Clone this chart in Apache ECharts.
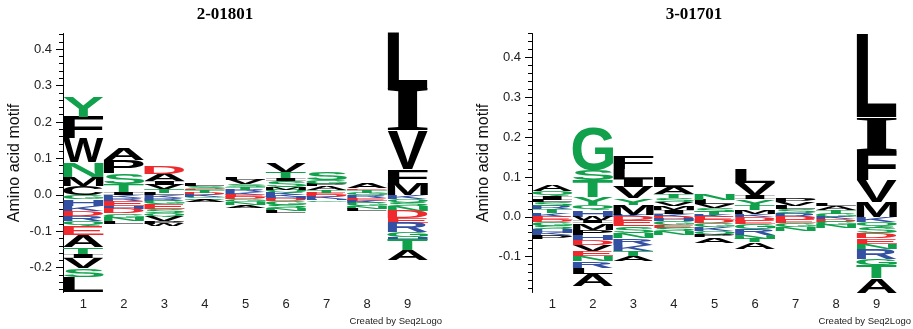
<!DOCTYPE html>
<html>
<head>
<meta charset="utf-8">
<script src="https://cdn.jsdelivr.net/npm/echarts@6/dist/echarts.min.js"></script>
<style>html,body{margin:0;padding:0;background:#fff;}#c{width:913px;height:329px;}</style>
</head>
<body>
<div id="c"></div>
<script>
// ---- data ----
const positions = ['1','2','3','4','5','6','7','8','9'];

// Panel 1: 2-01801  (letters stacked outward from zero, in listed order)
const leftTitle = '2-01801';
const leftUpLetters = ['CMNWFY','ITSPA','LTVIAD','DTESL','KRTSVL','KQMSITV','ETAPGS','GTEA','MFVIL'];
const leftUpHeights = [
  [0.025,0.025,0.04,0.065,0.06,0.055],
  [0.008,0.022,0.03,0.035,0.03],
  [0.006,0.01,0.012,0.01,0.02,0.022],
  [0.005,0.008,0.004,0.008,0.005],
  [0.008,0.006,0.008,0.008,0.012,0.008],
  [0.006,0.008,0.008,0.016,0.008,0.018,0.024],
  [0.005,0.008,0.01,0.007,0.01,0.02],
  [0.006,0.008,0.004,0.015],
  [0.03,0.04,0.105,0.115,0.153]
];
const leftDownLetters = ['GHKDRQEATIVSL','KREHDGNL','KRGESQVPW','KGQA','EDGNA','KHDGSNL','DKHG','REKGNL','KQSNDERGHTA'];
const leftDownHeights = [
  [0.012,0.018,0.014,0.013,0.014,0.014,0.025,0.033,0.018,0.013,0.028,0.023,0.042],
  [0.008,0.008,0.015,0.008,0.012,0.012,0.01,0.007],
  [0.008,0.008,0.01,0.012,0.012,0.01,0.012,0.008,0.005],
  [0.005,0.005,0.005,0.005],
  [0.006,0.006,0.008,0.008,0.007],
  [0.006,0.005,0.006,0.01,0.01,0.008,0.005],
  [0.006,0.005,0.004,0.005],
  [0.008,0.008,0.006,0.01,0.008,0.005],
  [0.011,0.01,0.01,0.013,0.02,0.012,0.026,0.013,0.008,0.03,0.027]
];
const leftMajorTicks = [-0.2,-0.1,0.0,0.1,0.2,0.3,0.4];
const leftMinorTicks = [-0.26,-0.24,-0.22,-0.18,-0.16,-0.14,-0.12,-0.08,-0.06,-0.04,-0.02,0.02,0.04,0.06,0.08,0.12,0.14,0.16,0.18,0.22,0.24,0.26,0.28,0.32,0.34,0.36,0.38,0.42,0.44];

// Panel 2: 3-01701
const rightTitle = '3-01701';
const rightUpLetters = ['KTRSLIQA','HQYTSG','KMYVILF','KIMVSTAL','KTSVLN','KMTYIVL','RSLVP','GTAL','MVFIL'];
const rightUpHeights = [
  [0.01,0.01,0.008,0.008,0.006,0.01,0.012,0.016],
  [0.017,0.013,0.02,0.042,0.025,0.108],
  [0.005,0.025,0.016,0.029,0.02,0.025,0.033],
  [0.006,0.01,0.01,0.01,0.01,0.01,0.02,0.024],
  [0.005,0.008,0.008,0.01,0.012,0.017],
  [0.006,0.01,0.012,0.016,0.01,0.03,0.036],
  [0.01,0.01,0.008,0.008,0.01],
  [0.008,0.01,0.01,0.007],
  [0.038,0.054,0.073,0.085,0.21]
];
const rightDownLetters = ['EDGSHKP','WIMPHDVENRLA','DESNRKTA','DHGESN','EDGKQPA','DEGRNTA','DEGN','KDGN','KQSDENRGTA'];
const rightDownHeights = [
  [0.008,0.006,0.01,0.008,0.008,0.005,0.01],
  [0.008,0.008,0.016,0.013,0.012,0.013,0.016,0.013,0.012,0.017,0.016,0.029],
  [0.008,0.016,0.016,0.013,0.017,0.016,0.013,0.012],
  [0.005,0.006,0.01,0.006,0.01,0.008],
  [0.008,0.008,0.01,0.01,0.01,0.005,0.014],
  [0.01,0.008,0.012,0.016,0.01,0.008,0.016],
  [0.008,0.008,0.01,0.009],
  [0.006,0.006,0.008,0.008],
  [0.012,0.013,0.015,0.014,0.014,0.012,0.025,0.015,0.033,0.037]
];
const rightMajorTicks = [-0.1,0.0,0.1,0.2,0.3,0.4];
const rightMinorTicks = [-0.18,-0.16,-0.14,-0.12,-0.08,-0.06,-0.04,-0.02,0.02,0.04,0.06,0.08,0.12,0.14,0.16,0.18,0.22,0.24,0.26,0.28,0.32,0.34,0.36,0.38,0.42,0.44,0.46];

// ---- styling ----
const GREEN = '#11a04b', RED = '#ee2a2f', BLUE = '#3450a3', BLACK = '#000000';
function letterColor(ch) {
  if ('GSTYQN'.indexOf(ch) >= 0) return GREEN;
  if ('DE'.indexOf(ch) >= 0) return RED;
  if ('KRH'.indexOf(ch) >= 0) return BLUE;
  return BLACK;
}
function letterFamily(ch) { return ch === 'I' ? '"Liberation Serif"' : '"Liberation Sans"'; }

const FS = 100;
const measureCtx = document.createElement('canvas').getContext('2d');
const metricCache = {};
function glyphMetrics(ch) {
  if (metricCache[ch]) return metricCache[ch];
  measureCtx.font = 'bold ' + FS + 'px ' + letterFamily(ch);
  measureCtx.textBaseline = 'middle';
  measureCtx.textAlign = 'left';
  const m = measureCtx.measureText(ch);
  const r = { l: m.actualBoundingBoxLeft, r: m.actualBoundingBoxRight, a: m.actualBoundingBoxAscent, d: m.actualBoundingBoxDescent };
  metricCache[ch] = r;
  return r;
}

function buildMarks(upL, upH, dnL, dnH) {
  const marks = [];
  for (let i = 0; i < upL.length; i++) {
    let acc = 0;
    for (let j = 0; j < upL[i].length; j++) {
      marks.push({ x: i, y0: acc, y1: acc + upH[i][j], ch: upL[i][j] });
      acc += upH[i][j];
    }
    acc = 0;
    for (let j = 0; j < dnL[i].length; j++) {
      marks.push({ x: i, y0: acc, y1: acc - dnH[i][j], ch: dnL[i][j] });
      acc -= dnH[i][j];
    }
  }
  return marks;
}
const leftMarks = buildMarks(leftUpLetters, leftUpHeights, leftDownLetters, leftDownHeights);
const rightMarks = buildMarks(rightUpLetters, rightUpHeights, rightDownLetters, rightDownHeights);

function makeRender(marks) {
  return function (params, api) {
    const m = marks[params.dataIndex];
    const pA = api.coord([api.value(0), api.value(1)]);
    const pB = api.coord([api.value(0), api.value(2)]);
    const bw = api.size([1, 0])[0];
    const top = Math.min(pA[1], pB[1]);
    const h = Math.abs(pA[1] - pB[1]);
    const left = pA[0] - bw / 2;
    const g = glyphMetrics(m.ch);
    const sx = bw / (g.l + g.r);
    const sy = h / (g.a + g.d);
    return {
      type: 'text',
      x: left + sx * g.l,
      y: top + sy * g.a,
      scaleX: sx,
      scaleY: sy,
      silent: true,
      style: {
        text: m.ch,
        x: 0, y: 0,
        fill: letterColor(m.ch),
        fontSize: FS,
        fontWeight: 'bold',
        fontFamily: letterFamily(m.ch),
        align: 'left',
        verticalAlign: 'middle'
      }
    };
  };
}

const labelFont = '"Liberation Sans", Arial, sans-serif';
function xAxisOf(gi) {
  return {
    type: 'category', gridIndex: gi, data: positions,
    axisLine: { show: false }, axisTick: { show: false },
    axisLabel: { fontSize: 13, color: '#222', margin: 5, fontFamily: labelFont },
    splitLine: { show: false }
  };
}
function yAxesOf(gi, min, max, majors, minors) {
  return [
    {
      type: 'value', gridIndex: gi, min: min, max: max, position: 'left', offset: 0,
      axisLine: { show: true, lineStyle: { color: '#000', width: 1 } },
      axisTick: { show: true, length: 7, customValues: majors, lineStyle: { color: '#000', width: 1 } },
      axisLabel: { show: true, customValues: majors, margin: 11, fontSize: 13, color: '#222', fontFamily: labelFont,
        formatter: function (v) { return (Math.abs(v) < 1e-9 ? 0 : v).toFixed(1); } },
      splitLine: { show: false }
    },
    {
      type: 'value', gridIndex: gi, min: min, max: max, position: 'left', offset: 0,
      axisLine: { show: false, onZero: false },
      axisTick: { show: true, length: 4, customValues: minors, lineStyle: { color: '#000', width: 1 } },
      axisLabel: { show: false },
      splitLine: { show: false }
    }
  ];
}

const chart = echarts.init(document.getElementById('c'), null, { renderer: 'canvas' });
const yLeft = yAxesOf(0, -0.268, 0.443, leftMajorTicks, leftMinorTicks);
const yRight = yAxesOf(1, -0.19, 0.46, rightMajorTicks, rightMinorTicks);

chart.setOption({
  animation: false,
  backgroundColor: '#fff',
  grid: [
    { left: 63, top: 33.5, width: 365, height: 259 },
    { left: 532, top: 33.5, width: 365, height: 259 }
  ],
  xAxis: [xAxisOf(0), xAxisOf(1)],
  yAxis: [yLeft[0], yLeft[1], yRight[0], yRight[1]],
  series: [
    { type: 'custom', xAxisIndex: 0, yAxisIndex: 0, renderItem: makeRender(leftMarks),
      data: leftMarks.map(m => [m.x, m.y0, m.y1]), encode: { x: 0, y: [1, 2] } },
    { type: 'custom', xAxisIndex: 1, yAxisIndex: 2, renderItem: makeRender(rightMarks),
      data: rightMarks.map(m => [m.x, m.y0, m.y1]), encode: { x: 0, y: [1, 2] } }
  ],
  graphic: [
    { type: 'text', x: 225, y: 15, style: { text: leftTitle, fill: '#000', font: 'bold 17px "Liberation Serif", serif', align: 'center', verticalAlign: 'middle' } },
    { type: 'text', x: 694, y: 15, style: { text: rightTitle, fill: '#000', font: 'bold 17px "Liberation Serif", serif', align: 'center', verticalAlign: 'middle' } },
    { type: 'text', x: 15, y: 163, rotation: Math.PI / 2, style: { text: 'Amino acid motif', fill: '#111', font: '16px "Liberation Sans", Arial, sans-serif', align: 'center', verticalAlign: 'middle' } },
    { type: 'text', x: 484, y: 163, rotation: Math.PI / 2, style: { text: 'Amino acid motif', fill: '#111', font: '16px "Liberation Sans", Arial, sans-serif', align: 'center', verticalAlign: 'middle' } },
    { type: 'text', x: 442, y: 321, style: { text: 'Created by Seq2Logo', fill: '#222', font: '9.5px "Liberation Sans", Arial, sans-serif', align: 'right', verticalAlign: 'middle' } },
    { type: 'text', x: 911, y: 321, style: { text: 'Created by Seq2Logo', fill: '#222', font: '9.5px "Liberation Sans", Arial, sans-serif', align: 'right', verticalAlign: 'middle' } }
  ]
});
</script>
</body>
</html>
